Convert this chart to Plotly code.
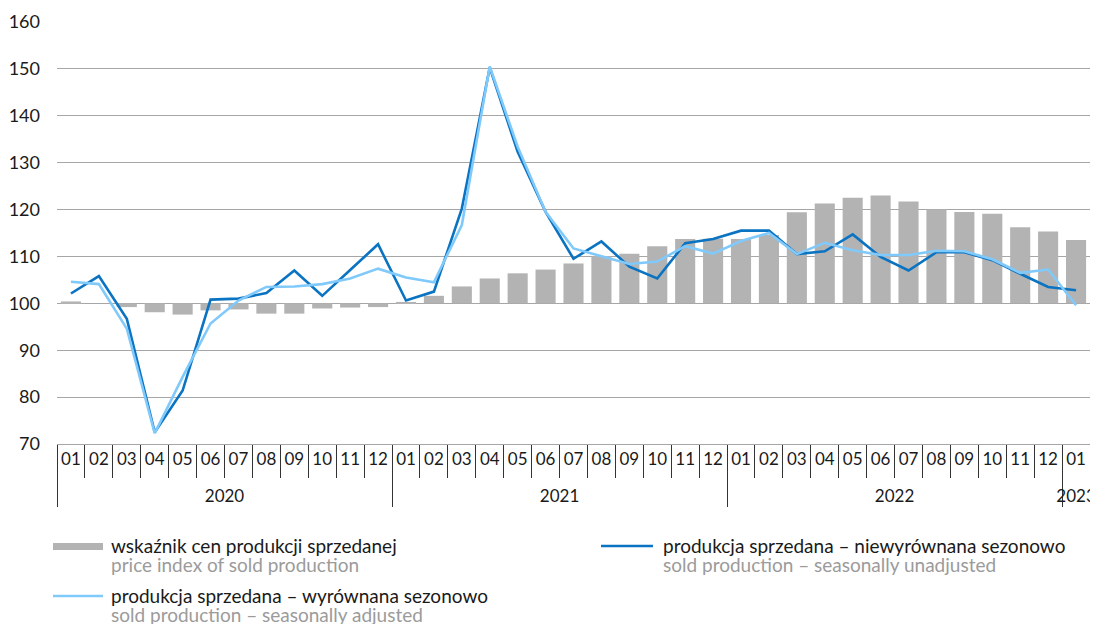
import plotly.graph_objects as go

# ---- data ----
years = ["2020"] * 12 + ["2021"] * 12 + ["2022"] * 12 + ["2023"]
months = ["01", "02", "03", "04", "05", "06", "07", "08", "09", "10", "11", "12"] * 3 + ["01"]

price_index = [100.4, 100.0, 99.2, 98.1, 97.6, 98.5, 98.7, 97.8, 97.8, 98.9, 99.1, 99.2,
               100.3, 101.6, 103.6, 105.3, 106.4, 107.2, 108.5, 110.1, 110.6, 112.2, 113.7, 113.8,
               113.7, 114.6, 119.4, 121.3, 122.5, 123.0, 121.7, 120.0, 119.5, 119.1, 116.2, 115.3,
               113.5]

unadjusted = [102.1, 105.8, 96.7, 72.5, 81.4, 100.8, 101.0, 102.2, 107.0, 101.6, 107.1, 112.6,
              100.6, 102.5, 120.2, 150.3, 132.3, 119.5, 109.5, 113.2, 107.8, 105.3, 112.8, 113.7,
              115.5, 115.5, 110.5, 111.1, 114.7, 109.9, 107.0, 110.9, 110.9, 109.2, 106.3, 103.5,
              102.8]

adjusted = [104.6, 104.1, 94.6, 72.3, 84.3, 95.7, 100.6, 103.5, 103.6, 104.1, 105.3, 107.4,
            105.5, 104.5, 116.7, 150.5, 133.4, 119.5, 111.7, 110.0, 108.4, 108.9, 112.2, 110.6,
            113.3, 115.0, 110.5, 112.9, 111.3, 110.3, 110.3, 111.2, 111.1, 109.4, 106.5, 107.2,
            99.6]

base_level = 100
y_ticks = [70, 80, 90, 100, 110, 120, 130, 140, 150, 160]

legend_pl = ["wskaźnik cen produkcji sprzedanej",
             "produkcja sprzedana – wyrównana sezonowo",
             "produkcja sprzedana – niewyrównana sezonowo"]
legend_en = ["price index of sold production",
             "sold production – seasonally adjusted",
             "sold production – seasonally unadjusted"]

# ---- style ----
FONT = "Lato"
BAR_C = "#b3b3b3"
DARK_C = "#0a73c2"
LIGHT_C = "#80c9fb"
GRID_C = "#a6a6a6"
TXT_C = "#1a1a1a"
SUB_C = "#9b9b9b"

OFF = 8                      # default page body margin
W, H = 1090, 616
ML, MR, MT, MB = 49, 8, 14, 180
PW, PH = W - ML - MR, H - MT - MB


def px(x):
    return (x - OFF - ML) / PW


def py(y):
    return (OFF + H - MB - y) / PH


# transparent tall thin spaces enlarge the month-row box so the year row sits lower
SPACER = "<span style='font-size:29px;color:rgba(255,255,255,0)'>\u2009</span>"
month_labels = [SPACER + m + SPACER for m in months]
x = [years, month_labels]

fig = go.Figure()
fig.add_trace(go.Bar(
    x=x, y=[v - base_level for v in price_index], base=base_level,
    marker=dict(color=BAR_C, line=dict(width=0)), width=0.72,
    name=legend_pl[0], showlegend=False, hoverinfo="skip"))
fig.add_trace(go.Scatter(
    x=x, y=unadjusted, mode="lines", line=dict(color=DARK_C, width=2.6),
    name=legend_pl[2], showlegend=False))
fig.add_trace(go.Scatter(
    x=x, y=adjusted, mode="lines", line=dict(color=LIGHT_C, width=2.6),
    name=legend_pl[1], showlegend=False))

fig.update_layout(
    width=W, height=H,
    margin=dict(l=ML, r=MR, t=MT, b=MB, autoexpand=False),
    paper_bgcolor="white", plot_bgcolor="white",
    font=dict(family=FONT, color=TXT_C),
    xaxis=dict(
        type="multicategory", tickson="boundaries", ticks="outside", ticklen=33,
        tickcolor="#333333", tickwidth=1, tickangle=0,
        showdividers=True, dividercolor="#333333", dividerwidth=1,
        showline=True, linecolor=GRID_C, linewidth=1,
        showgrid=False, tickfont=dict(family=FONT, size=17, color=TXT_C),
        range=[-0.5, 36.5], automargin=False,
    ),
    xaxis2=dict(
        overlaying="x", anchor="free", position=(base_level - 70) / 90,
        type="linear", range=[-0.5, 36.5], tickmode="linear", tick0=-0.5, dtick=1,
        ticks="outside", ticklen=5, tickcolor="#000000", tickwidth=1,
        showline=True, linecolor="#000000", linewidth=1.5,
        showticklabels=False, showgrid=False, zeroline=False, automargin=False,
    ),
    yaxis=dict(
        range=[70, 160], tickvals=y_ticks, showgrid=True, gridcolor=GRID_C, gridwidth=1,
        zeroline=False, showline=False, ticks="",
        tickfont=dict(family=FONT, size=18, color=TXT_C), ticklabelstandoff=16,
        automargin=False,
    ),
)

# ---- custom legend ----
fig.add_shape(type="rect", xref="paper", yref="paper",
              x0=px(53), x1=px(103), y0=py(550), y1=py(543),
              fillcolor=BAR_C, line=dict(width=0))
fig.add_shape(type="line", xref="paper", yref="paper",
              x0=px(53), x1=px(103), y0=py(596), y1=py(596),
              line=dict(color=LIGHT_C, width=2.6))
fig.add_shape(type="line", xref="paper", yref="paper",
              x0=px(601), x1=px(653), y0=py(546), y1=py(546),
              line=dict(color=DARK_C, width=2.6))

legend_pos = [(110, 545), (110, 595), (662, 545)]
for (lx, ly), t1, t2 in zip(legend_pos, legend_pl, legend_en):
    fig.add_annotation(xref="paper", yref="paper", x=px(lx), y=py(ly),
                       xanchor="left", yanchor="middle", showarrow=False, borderpad=0,
                       text=t1, font=dict(family=FONT, size=19, color=TXT_C))
    fig.add_annotation(xref="paper", yref="paper", x=px(lx), y=py(ly + 19),
                       xanchor="left", yanchor="middle", showarrow=False, borderpad=0,
                       text=t2, font=dict(family=FONT, size=19, color=SUB_C))

fig.write_html("out.html")
